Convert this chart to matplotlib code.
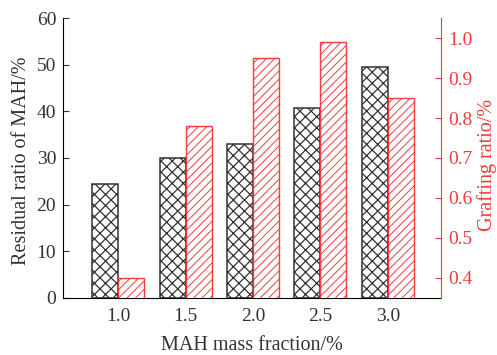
import matplotlib
matplotlib.use('Agg')
import matplotlib.pyplot as plt
import numpy as np

fractions = ['1.0', '1.5', '2.0', '2.5', '3.0']
residual = [24.5, 30.1, 33.1, 40.8, 49.6]
grafting = [0.40, 0.78, 0.95, 0.99, 0.85]

plt.rcParams['font.family'] = ['Liberation Serif', 'DejaVu Serif']
plt.rcParams['hatch.linewidth'] = 0.9
red = '#f03c3c'

fig = plt.figure(figsize=(4.97, 3.55), dpi=100)
ax1 = fig.add_axes([0.127, 0.161, 0.76, 0.788])
ax2 = ax1.twinx()

x = np.arange(len(fractions))
w = 0.385
ax1.bar(x - w / 2, residual, w, color='white', edgecolor='#333333', hatch='xxx', linewidth=1.1)
plt.rcParams['hatch.linewidth'] = 0.7
ax2.bar(x + w / 2, grafting, w, color='white', edgecolor=red, hatch='////', linewidth=1.0)

ax1.set_xlim(-0.815, 4.785)
ax1.set_ylim(0, 60)
ax2.set_ylim(0.35, 1.05)
ax1.set_xticks(x)
ax1.set_xticklabels(fractions)
ax1.set_yticks(range(0, 61, 10))
ax2.set_yticks([0.4, 0.5, 0.6, 0.7, 0.8, 0.9, 1.0])
ax2.set_yticklabels(['0.4', '0.5', '0.6', '0.7', '0.8', '0.9', '1.0'])

for a in (ax1, ax2):
    a.spines['top'].set_visible(False)
ax1.spines['right'].set_visible(False)
ax2.spines['left'].set_visible(False)
ax2.spines['bottom'].set_visible(False)
ax2.spines['right'].set_color(red)

ax1.tick_params(axis='y', direction='in', length=4, labelsize=14, colors='#333333', pad=5)
ax1.tick_params(axis='x', length=0, labelsize=14, colors='#333333', pad=7)
ax2.tick_params(axis='y', direction='in', length=4, labelsize=14, colors=red, pad=5)

ax1.set_xlabel('MAH mass fraction/%', fontsize=14.5, color='#333333')
ax1.xaxis.set_label_coords(0.5, -0.135)
ax1.set_ylabel('Residual ratio of MAH/%', fontsize=14.5, color='#333333')
ax1.yaxis.set_label_coords(-0.085, 0.49)
ax2.set_ylabel('Grafting ratio/%', fontsize=14.5, color=red)
ax2.yaxis.set_label_coords(1.097, 0.475)

fig.savefig('out.png', dpi=100)
